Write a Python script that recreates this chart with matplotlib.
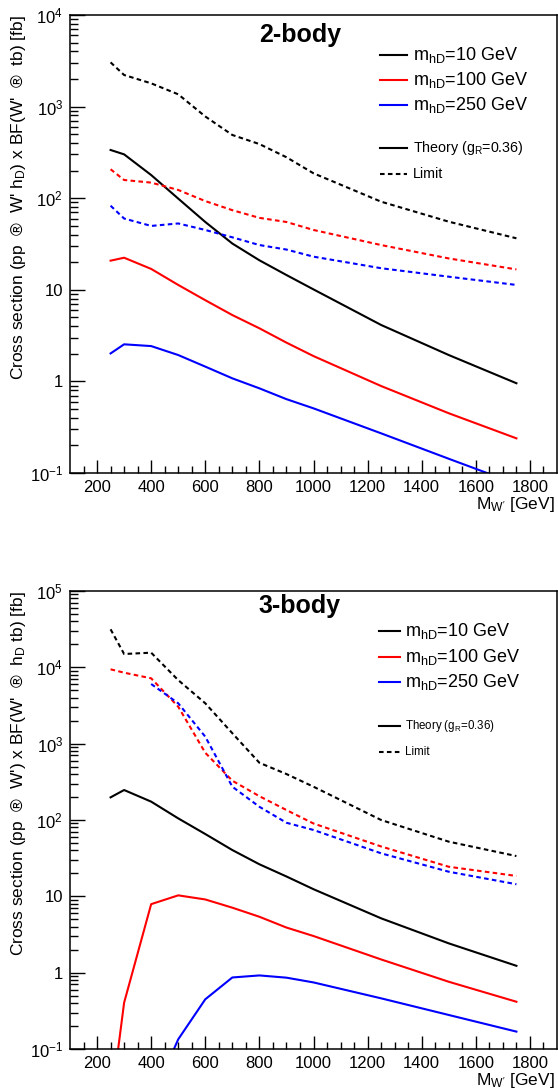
import numpy as np
import matplotlib
matplotlib.use('Agg')
import matplotlib.pyplot as plt
from matplotlib.ticker import FixedLocator, LogLocator, NullFormatter, FixedFormatter

plt.rcParams['font.family'] = ['Liberation Sans', 'DejaVu Sans']
plt.rcParams['mathtext.fontset'] = 'custom'
plt.rcParams['mathtext.rm'] = 'Liberation Sans'
plt.rcParams['mathtext.it'] = 'Liberation Sans:italic'
plt.rcParams['mathtext.bf'] = 'Liberation Sans:bold'

# ---- data: 2-body ----
m2 = [250, 300, 400, 500, 600, 700, 800, 900, 1000, 1250, 1500, 1750]
theory2_10 = [336, 301, 179, 99, 55, 32, 21, 14.5, 10.1, 4.13, 1.94, 0.955]
theory2_100 = [20.8, 22.4, 16.9, 11.3, 7.7, 5.3, 3.8, 2.65, 1.89, 0.89, 0.449, 0.239]
theory2_250 = [2.02, 2.54, 2.43, 1.94, 1.45, 1.08, 0.84, 0.64, 0.508, 0.271, 0.143, 0.076]
limit2_10 = [3040, 2213, 1795, 1362, 780, 490, 390, 280, 187, 91.6, 55.4, 36.5]
limit2_100 = [207, 158, 148, 123, 93, 74, 61, 55, 45, 30.8, 22, 16.7]
limit2_250 = [82.8, 60, 49.8, 53, 45, 37.4, 30.8, 27.5, 23, 17.2, 13.9, 11.3]

# ---- data: 3-body ----
m3 = [250, 300, 400, 500, 600, 700, 800, 900, 1000, 1250, 1500, 1750]
theory3_10 = [198, 247, 174, 105, 65.5, 40.4, 26.3, 18.2, 12.4, 5.15, 2.42, 1.23]
theory3_100 = [0.017, 0.404, 7.9, 10.3, 9.1, 7.1, 5.4, 3.9, 3.02, 1.49, 0.76, 0.416]
limit3_10 = [31500, 14950, 15560, 6800, 3380, 1370, 562, 400, 273, 100, 52, 33.7]
limit3_100 = [9420, 8510, 7180, 3050, 760, 327, 205, 135, 90, 45, 24.4, 18.5]
m3_250 = [400, 500, 600, 700, 800, 900, 1000, 1250, 1500, 1750]
theory3_250 = [0.021, 0.134, 0.448, 0.865, 0.92, 0.86, 0.745, 0.461, 0.279, 0.169]
limit3_250 = [6050, 3380, 1235, 273, 149, 92, 74, 36.6, 21, 14.4]

W, H = 558, 1089
fig = plt.figure(figsize=(W / 100, H / 100), dpi=100)


def px_axes(l, t, r, b):
    return fig.add_axes([l / W, 1 - b / H, (r - l) / W, (b - t) / H])


dash = (2.2, 1.6)


def style_axes(ax, ymin, ymax, ylabels):
    ax.set_xlim(100, 1900)
    ax.set_yscale('log')
    ax.set_ylim(ymin, ymax)
    ax.xaxis.set_major_locator(FixedLocator(np.arange(200, 1801, 200)))
    ax.xaxis.set_minor_locator(FixedLocator(np.arange(150, 1900, 50)))
    decades = [10.0 ** k for k in range(int(np.log10(ymin)), int(np.log10(ymax)) + 1)]
    ax.yaxis.set_major_locator(FixedLocator(decades))
    ax.yaxis.set_major_formatter(FixedFormatter(ylabels))
    ax.yaxis.set_minor_locator(LogLocator(base=10, subs=np.arange(2, 10)))
    ax.yaxis.set_minor_formatter(NullFormatter())
    ax.tick_params(which='both', direction='in', top=False, right=False, labelsize=12)
    ax.tick_params(axis='y', which='major', length=11, width=1, pad=5)
    ax.tick_params(axis='y', which='minor', length=5.5, width=1)
    ax.tick_params(axis='x', which='major', length=9.5, width=1, pad=5)
    ax.tick_params(axis='x', which='minor', length=5, width=1)
    for s in ax.spines.values():
        s.set_linewidth(1.1)


def legend(ax, x0, x1, xt, ys, fs_small, entries):
    for (y, lab, col) in zip(ys[:3], entries, ['k', 'r', 'b']):
        ax.plot([x0, x1], [y, y], color=col, lw=1.5, transform=ax.transAxes)
        ax.text(xt, y, lab, transform=ax.transAxes, fontsize=13, va='center')
    ax.plot([x0, x1], [ys[3], ys[3]], color='k', lw=1.5, transform=ax.transAxes)
    ax.text(xt, ys[3], r"Theory (g$_{\rm R}$=0.36)", transform=ax.transAxes,
            fontsize=fs_small, va='center')
    ax.plot([x0, x1], [ys[4], ys[4]], color='k', lw=1.5, dashes=dash, transform=ax.transAxes)
    ax.text(xt, ys[4], "Limit", transform=ax.transAxes, fontsize=fs_small, va='center')


labels_mhd = [r"m$_{\rm hD}$=10 GeV", r"m$_{\rm hD}$=100 GeV", r"m$_{\rm hD}$=250 GeV"]

# ---------------- 2-body ----------------
ax1 = px_axes(70, 15, 557, 473)
ax1.plot(m2, theory2_10, color='k', lw=1.5)
ax1.plot(m2, theory2_100, color='r', lw=1.5)
ax1.plot(m2, theory2_250, color='b', lw=1.5)
ax1.plot(m2, limit2_10, color='k', lw=1.5, dashes=dash)
ax1.plot(m2, limit2_100, color='r', lw=1.5, dashes=dash)
ax1.plot(m2, limit2_250, color='b', lw=1.5, dashes=dash)
style_axes(ax1, 0.1, 1e4, [r"$10^{-1}$", "1", "10", r"$10^{2}$", r"$10^{3}$", r"$10^{4}$"])
ax1.text(0.472, 0.956, "2-body", transform=ax1.transAxes, fontsize=18,
         fontweight='bold', ha='center', va='center')
legend(ax1, 0.637, 0.692, 0.704, [0.9127, 0.858, 0.8035, 0.7096, 0.6528], 10.3, labels_mhd)

# ---------------- 3-body ----------------
ax2 = px_axes(70, 591, 557, 1049)
ax2.plot(m3, theory3_10, color='k', lw=1.5)
ax2.plot(m3, theory3_100, color='r', lw=1.5)
ax2.plot(m3_250, theory3_250, color='b', lw=1.5)
ax2.plot(m3, limit3_10, color='k', lw=1.5, dashes=dash)
ax2.plot(m3, limit3_100, color='r', lw=1.5, dashes=dash)
ax2.plot(m3_250, limit3_250, color='b', lw=1.5, dashes=dash)
style_axes(ax2, 0.1, 1e5, [r"$10^{-1}$", "1", "10", r"$10^{2}$", r"$10^{3}$",
                           r"$10^{4}$", r"$10^{5}$"])
ax2.text(0.472, 0.967, "3-body", transform=ax2.transAxes, fontsize=18,
         fontweight='bold', ha='center', va='center')
legend(ax2, 0.6345, 0.6776, 0.688, [0.9133, 0.8566, 0.802, 0.706, 0.649], 8.3, labels_mhd)

# axis titles
fig.text(19 / W, 1 - 15 / H, r"Cross section (pp  ®  W' h$_{\rm D}$) x BF(W'  ®  tb) [fb]",
         rotation=90, ha='center', va='top', fontsize=12.5)
fig.text(19 / W, 1 - 591 / H, r"Cross section (pp  ®  W') x BF(W'  ®  h$_{\rm D}$ tb) [fb]",
         rotation=90, ha='center', va='top', fontsize=12.5)
fig.text(555 / W, 1 - 509 / H, r"M$_{\rm W'}$ [GeV]", ha='right', va='baseline', fontsize=12.5)
fig.text(555 / W, 1 - 1085 / H, r"M$_{\rm W'}$ [GeV]", ha='right', va='baseline', fontsize=12.5)

fig.savefig('out.png', dpi=100)
